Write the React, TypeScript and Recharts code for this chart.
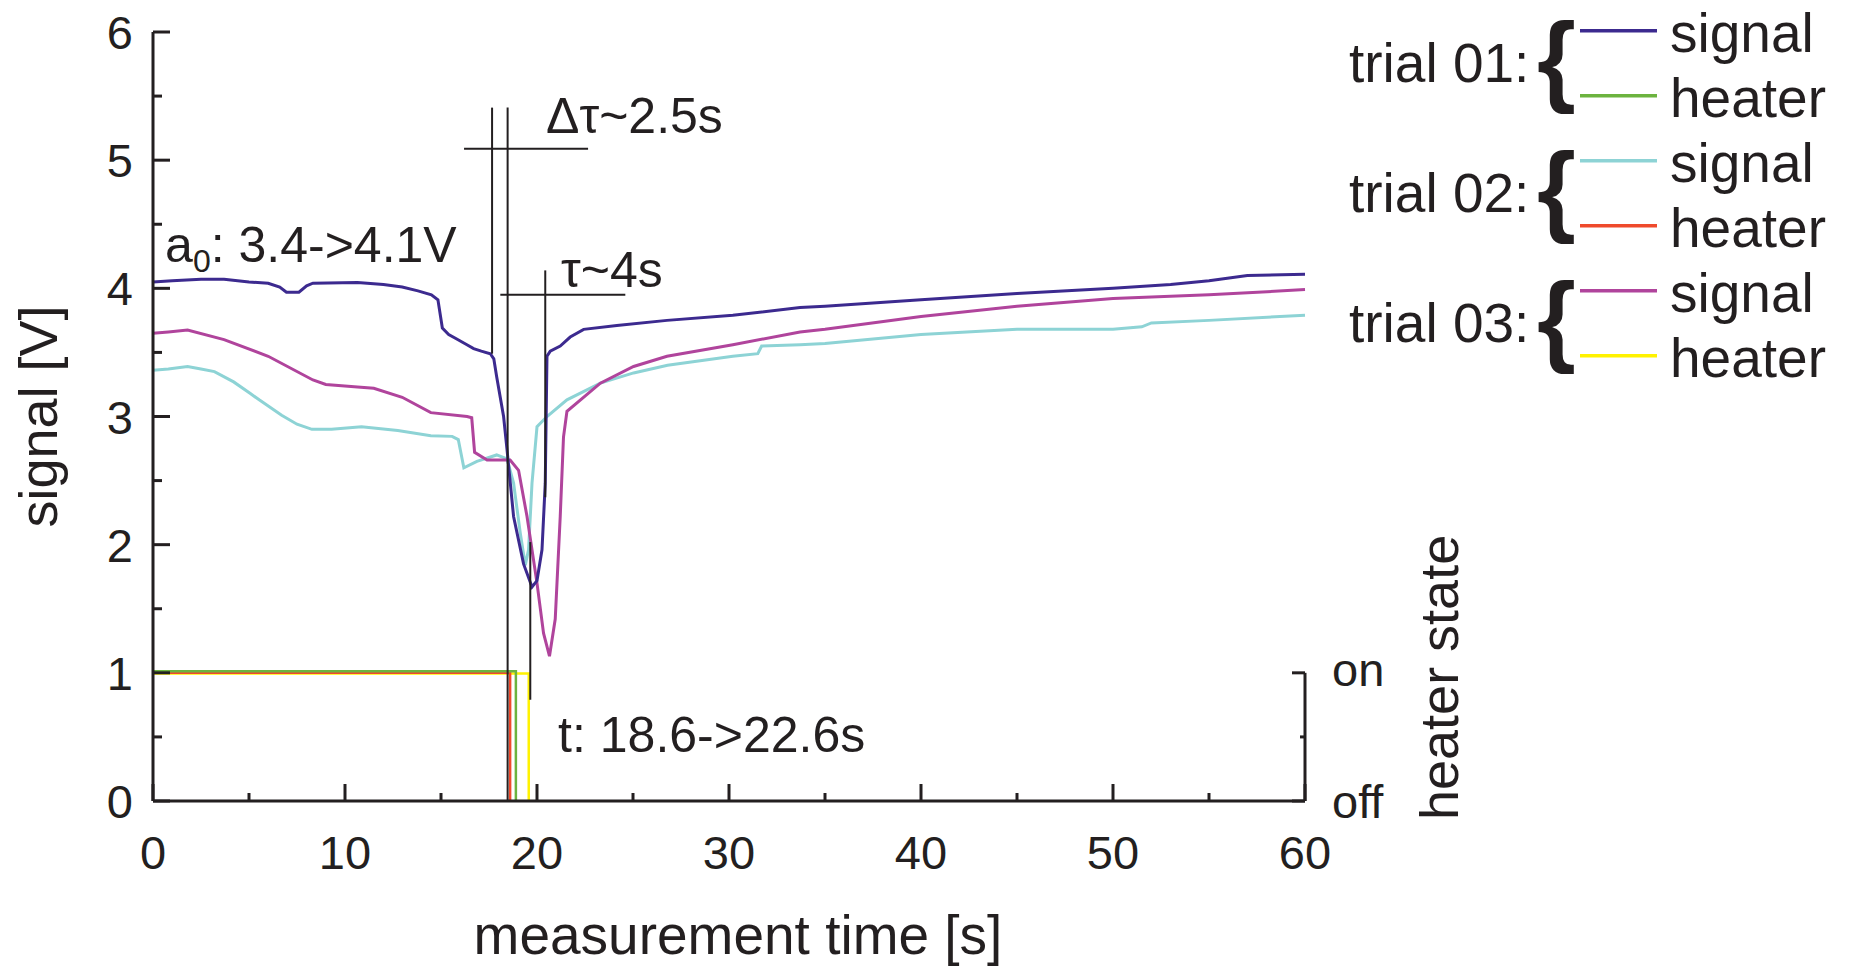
import React from "react";
import { LineChart, Line, XAxis, YAxis, ReferenceLine, ReferenceDot } from "recharts";

const W = 1851;
const H = 966;
const INK = "#231f20";
const FONT = "'Liberation Sans', Arial, Helvetica, sans-serif";

// axis ticks
const timeTicks = [0, 5, 10, 15, 20, 25, 30, 35, 40, 45, 50, 55, 60];
const signalTicks = [0, 0.5, 1, 1.5, 2, 2.5, 3, 3.5, 4, 4.5, 5, 5.5, 6];
const heaterTicks = [0, 0.5, 1];
const heaterTickLabels: Record<number, string> = { 0: "off", 1: "on" };

// [time s, signal V]
const trial01Signal: [number, number][] = [
  [0, 4.05], [1, 4.06], [2.5, 4.07], [3.7, 4.07], [5, 4.05], [6, 4.04], [6.6, 4.01],
  [6.95, 3.97], [7.6, 3.97], [8.0, 4.02], [8.33, 4.04], [10.65, 4.045], [12, 4.03],
  [12.98, 4.01], [13.8, 3.98], [14.5, 3.95], [14.84, 3.91], [15.07, 3.69], [15.4, 3.64],
  [15.75, 3.61], [16.35, 3.56], [16.7, 3.53], [17.1, 3.51], [17.57, 3.49], [17.75, 3.45],
  [17.9, 3.31], [18.26, 3.0], [18.44, 2.74], [18.78, 2.22], [19.3, 1.85], [19.74, 1.67],
  [20.0, 1.72], [20.26, 1.96], [20.43, 2.48], [20.52, 3.47], [20.69, 3.51], [21.21, 3.55],
  [21.73, 3.62], [22.43, 3.68], [24.16, 3.71], [26.77, 3.75], [30.2, 3.79], [33.7, 3.85],
  [35, 3.86], [40, 3.91], [45, 3.96], [50, 4.0], [53, 4.03], [55, 4.06], [57, 4.1], [60, 4.11],
];

const trial02Signal: [number, number][] = [
  [0, 3.36], [0.8, 3.37], [1.8, 3.39], [2.5, 3.37], [3.2, 3.35], [4.2, 3.27], [5.07, 3.18],
  [5.53, 3.13], [6.7, 3.01], [7.5, 2.94], [8.28, 2.9], [9.3, 2.9], [10.86, 2.92], [12.75, 2.89],
  [14.47, 2.85], [15.58, 2.845], [15.9, 2.82], [16.19, 2.6], [16.87, 2.65], [17.9, 2.7],
  [18.44, 2.67], [18.78, 2.48], [19.13, 2.09], [19.39, 1.84], [19.56, 1.96], [19.74, 2.48],
  [20.0, 2.92], [20.52, 3.0], [21.56, 3.13], [23.3, 3.26], [25.03, 3.34], [26.8, 3.4],
  [30.2, 3.47], [31.5, 3.49], [31.7, 3.55], [33.7, 3.56], [35, 3.57], [40, 3.64], [45, 3.68],
  [50, 3.68], [51.5, 3.7], [52, 3.73], [55, 3.75], [60, 3.79],
];

const trial03Signal: [number, number][] = [
  [0, 3.65], [0.8, 3.66], [1.8, 3.675], [3.7, 3.6], [6.0, 3.47], [8.33, 3.285], [9.0, 3.25],
  [10.65, 3.23], [11.5, 3.22], [12.98, 3.15], [14.47, 3.03], [16.36, 3.0], [16.6, 2.99],
  [16.75, 2.72], [17.4, 2.66], [18.6, 2.66], [19.04, 2.58], [19.48, 2.22], [20.0, 1.7],
  [20.34, 1.31], [20.65, 1.13], [20.95, 1.42], [21.21, 2.22], [21.38, 2.84], [21.56, 3.04],
  [23.3, 3.26], [25.03, 3.39], [26.77, 3.47], [30.2, 3.56], [33.7, 3.66], [35, 3.68],
  [40, 3.78], [45, 3.86], [50, 3.92], [55, 3.95], [60, 3.99],
];

// heater state (1 = on, 0 = off)
const trial01Heater: [number, number][] = [[0, 1.012], [18.9, 1.012], [18.9, 0]];
const trial02Heater: [number, number][] = [[0, 1.0], [18.6, 1.0], [18.6, 0]];
const trial03Heater: [number, number][] = [[0, 0.995], [19.57, 0.995], [19.57, 0]];

// annotation segments [t1, v1, t2, v2]
const markerLines: [number, number, number, number][] = [
  [17.66, 3.49, 17.66, 5.41],
  [18.47, 0, 18.47, 5.41],
  [16.2, 5.09, 22.66, 5.09],
  [18.09, 3.95, 24.6, 3.95],
  [20.43, 2.37, 20.43, 4.14],
  [19.65, 0.79, 19.65, 2.02],
];

const notes = [
  { t: 20.47, v: 5.21, text: "Δτ~2.5s" },
  { t: 0.63, v: 4.205, text: "a", sub: "0", rest: ": 3.4->4.1V" },
  { t: 21.25, v: 4.01, text: "τ~4s" },
  { t: 21.1, v: 0.38, text: "t: 18.6->22.6s" },
];

const legendTrials = ["trial 01:", "trial 02:", "trial 03:"];
const signalColors = ["#3c2a8f", "#8dd3d5", "#b0449c"];
const heaterColors = ["#6cb33f", "#ef4a2c", "#fff200"];

const toPoints = (pairs: [number, number][]) => pairs.map(([t, v]) => ({ t, v }));

const XTick = ({ x, y, payload }: any) => {
  const major = payload.value % 10 === 0;
  return (
    <g>
      <line x1={x} x2={x} y1={y} y2={y - (major ? 17 : 8)} stroke={INK} strokeWidth={3} />
      {major && (
        <text x={x} y={y + 68} textAnchor="middle" fontSize={47} fill={INK} fontFamily={FONT}>
          {payload.value}
        </text>
      )}
    </g>
  );
};

const YTick = ({ x, y, payload }: any) => {
  const major = Number.isInteger(payload.value);
  return (
    <g>
      <line x1={x} x2={x + (major ? 17 : 9)} y1={y} y2={y} stroke={INK} strokeWidth={3} />
      {major && (
        <text x={x - 20} y={y + 17} textAnchor="end" fontSize={47} fill={INK} fontFamily={FONT}>
          {payload.value}
        </text>
      )}
    </g>
  );
};

const HeaterTick = ({ x, y, payload }: any) => {
  const label = heaterTickLabels[payload.value];
  const len = label ? 13 : 5;
  return (
    <g>
      <line x1={x} x2={x - len} y1={y} y2={y} stroke={INK} strokeWidth={3} />
      {label && (
        <text x={x + 27} y={y + (payload.value === 0 ? 17 : 13)} fontSize={47} fill={INK} fontFamily={FONT}>
          {label}
        </text>
      )}
    </g>
  );
};

const SignalAxisLabel = ({ viewBox }: any) => {
  const cx = viewBox.x + 57;
  const cy = viewBox.y + viewBox.height / 2;
  return (
    <text x={cx} y={cy} transform={`rotate(-90, ${cx}, ${cy})`} textAnchor="middle" fontSize={54} fill={INK} fontFamily={FONT}>
      signal [V]
    </text>
  );
};

const HeaterAxisLabel = ({ viewBox }: any) => {
  const cx = viewBox.x + 153;
  const cy = viewBox.y + viewBox.height + 19;
  return (
    <text x={cx} y={cy} transform={`rotate(-90, ${cx}, ${cy})`} textAnchor="start" fontSize={54} fill={INK} fontFamily={FONT}>
      heater state
    </text>
  );
};

const TimeAxisLabel = ({ viewBox }: any) => {
  const cx = viewBox.x + viewBox.width / 2 + 9;
  return (
    <text x={cx} y={viewBox.y + 153} textAnchor="middle" fontSize={55} fill={INK} fontFamily={FONT}>
      measurement time [s]
    </text>
  );
};

const NoteText = ({ viewBox, note }: any) => {
  const x = viewBox.x + (viewBox.width || 0) / 2;
  const y = viewBox.y + (viewBox.height || 0) / 2;
  return (
    <text x={x} y={y} fontSize={50} fill={INK} fontFamily={FONT}>
      {note.text}
      {note.sub && (
        <>
          <tspan fontSize={32} dy={10}>{note.sub}</tspan>
          <tspan dy={-10}>{note.rest}</tspan>
        </>
      )}
    </text>
  );
};

function LegendBlock() {
  return (
    <svg width={W} height={H} style={{ position: "absolute", left: 0, top: 0, pointerEvents: "none" }}>
      {legendTrials.map((label, i) => {
        const b = i * 130;
        return (
          <g key={label} fontFamily={FONT} fill={INK}>
            <text x={1349} y={81.7 + b} fontSize={55}>{label}</text>
            <text x={1537} y={92.5 + b} fontSize={100} fontWeight={700}>{"{"}</text>
            <line x1={1580} x2={1657} y1={30.7 + b} y2={30.7 + b} stroke={signalColors[i]} strokeWidth={3.5} />
            <line x1={1580} x2={1657} y1={95.7 + b} y2={95.7 + b} stroke={heaterColors[i]} strokeWidth={3.5} />
            <text x={1670} y={52 + b} fontSize={55}>signal</text>
            <text x={1670} y={116.7 + b} fontSize={55}>heater</text>
          </g>
        );
      })}
    </svg>
  );
}

export default function App() {
  const signals = [trial02Signal, trial03Signal, trial01Signal];
  const signalColorOrder = [signalColors[1], signalColors[2], signalColors[0]];
  const heaters = [trial03Heater, trial02Heater, trial01Heater];
  const heaterColorOrder = [heaterColors[2], heaterColors[1], heaterColors[0]];

  return (
    <div style={{ position: "absolute", left: 0, top: 0, width: W, height: H, background: "#fff" }}>
      <LineChart width={W} height={H} margin={{ top: 32, right: 466, bottom: 0, left: 0 }}>
        <XAxis
          dataKey="t"
          type="number"
          domain={[0, 60]}
          ticks={timeTicks}
          interval={0}
          height={165}
          tickSize={0}
          tickMargin={0}
          tickLine={false}
          axisLine={{ stroke: INK, strokeWidth: 3 }}
          tick={<XTick />}
          label={<TimeAxisLabel />}
        />
        <YAxis
          yAxisId="v"
          type="number"
          domain={[0, 6]}
          ticks={signalTicks}
          interval={0}
          width={153}
          tickSize={0}
          tickMargin={0}
          tickLine={false}
          axisLine={{ stroke: INK, strokeWidth: 3 }}
          tick={<YTick />}
          label={<SignalAxisLabel />}
        />
        <YAxis
          yAxisId="h"
          orientation="right"
          type="number"
          domain={[0, 6]}
          ticks={heaterTicks}
          interval={0}
          width={80}
          tickSize={0}
          tickMargin={0}
          tickLine={false}
          axisLine={false}
          tick={<HeaterTick />}
          label={<HeaterAxisLabel />}
        />
        <ReferenceLine
          yAxisId="h"
          segment={[{ x: 60, y: 0 }, { x: 60, y: 1 }]}
          stroke={INK}
          strokeWidth={3}
        />
        {heaters.map((h, i) => (
          <Line
            key={`h${i}`}
            yAxisId="h"
            data={toPoints(h)}
            dataKey="v"
            type="linear"
            stroke={heaterColorOrder[i]}
            strokeWidth={2.5}
            dot={false}
            isAnimationActive={false}
          />
        ))}
        {signals.map((s, i) => (
          <Line
            key={`s${i}`}
            yAxisId="v"
            data={toPoints(s)}
            dataKey="v"
            type="linear"
            stroke={signalColorOrder[i]}
            strokeWidth={3}
            dot={false}
            isAnimationActive={false}
          />
        ))}
        {markerLines.map(([t1, v1, t2, v2], i) => (
          <ReferenceLine
            key={`m${i}`}
            yAxisId="v"
            segment={[{ x: t1, y: v1 }, { x: t2, y: v2 }]}
            stroke={INK}
            strokeWidth={2}
          />
        ))}
        {notes.map((n, i) => (
          <ReferenceDot
            key={`n${i}`}
            yAxisId="v"
            x={n.t}
            y={n.v}
            r={0}
            stroke="none"
            fill="none"
            label={<NoteText note={n} />}
          />
        ))}
      </LineChart>
      <LegendBlock />
    </div>
  );
}
